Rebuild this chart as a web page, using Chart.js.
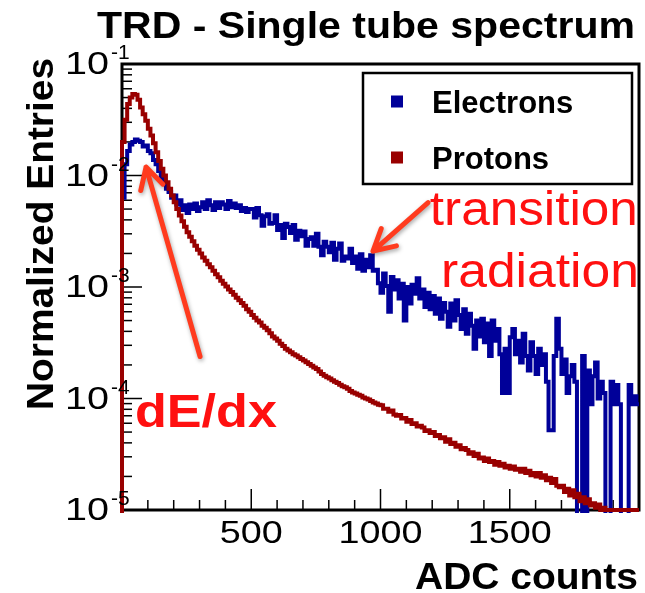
<!DOCTYPE html>
<html>
<head>
<meta charset="utf-8">
<script src="https://cdn.jsdelivr.net/npm/chart.js@4.4.0/dist/chart.umd.min.js"></script>
<style>
body { margin: 0; background: #ffffff; }
</style>
</head>
<body>
<canvas id="grafica_trd" width="645" height="593"></canvas>
<script>
// histogramas de 200 bins de 10 cuentas ADC (0 - 2000)
var anchoBin = 10;

var electrones = [
    6.3e-3, 1.26e-2, 1.66e-2, 1.9e-2, 2.0e-2, 2.1e-2, 2.05e-2, 2.0e-2, 1.82e-2, 1.86e-2,
    1.66e-2, 1.58e-2, 1.38e-2, 1.26e-2, 1.1e-2, 9.5e-3, 8.7e-3, 7.6e-3, 7.1e-3, 6.3e-3,
    6.6e-3, 5.5e-3, 6.0e-3, 4.9e-3, 5.4e-3, 4.6e-3, 5.5e-3, 5.0e-3, 5.6e-3, 4.8e-3,
    5.2e-3, 5.75e-3, 5.0e-3, 6.0e-3, 5.4e-3, 4.9e-3, 5.75e-3, 5.1e-3, 5.75e-3, 5.5e-3,
    5.0e-3, 5.9e-3, 5.2e-3, 5.6e-3, 5.1e-3, 5.4e-3, 4.8e-3, 5.1e-3, 4.7e-3, 5.0e-3,
    5.0e-3, 4.2e-3, 5.1e-3, 4.4e-3, 3.55e-3, 4.3e-3, 4.5e-3, 3.7e-3, 3.75e-3, 4.4e-3,
    3.25e-3, 3.6e-3, 2.75e-3, 3.7e-3, 3.45e-3, 3.05e-3, 3.6e-3, 2.65e-3, 3.2e-3, 2.85e-3,
    3.15e-3, 2.35e-3, 2.7e-3, 2.8e-3, 2.35e-3, 3.0e-3, 2.3e-3, 1.93e-3, 2.55e-3, 2.3e-3,
    2.05e-3, 2.5e-3, 1.76e-3, 2.2e-3, 2.45e-3, 1.72e-3, 1.88e-3, 1.8e-3, 2.2e-3, 1.64e-3,
    1.88e-3, 1.46e-3, 1.97e-3, 1.4e-3, 1.76e-3, 1.5e-3, 1.93e-3, 1.4e-3, 1.43e-3, 1.08e-3,
    8.9e-4, 1.32e-3, 1.02e-3, 6.0e-4, 1.23e-3, 9.5e-4, 1.15e-3, 7.9e-4, 1.07e-3, 5.0e-4,
    1.0e-3, 7.1e-4, 1.05e-3, 8.7e-4, 1.2e-3, 7.9e-4, 9.5e-4, 6.6e-4, 8.9e-4, 6.3e-4,
    8.3e-4, 5.75e-4, 7.9e-4, 5.2e-4, 7.2e-4, 6.0e-4, 4.4e-4, 7.1e-4, 5.0e-4, 7.6e-4,
    5.6e-4, 4.2e-4, 6.3e-4, 3.8e-4, 5.75e-4, 4.5e-4, 2.8e-4, 5.0e-4, 3.6e-4, 5.2e-4,
    3.2e-4, 4.7e-4, 2.4e-4, 5.0e-4, 3.3e-4, 4.2e-4, 2.5e-4, 1.12e-4, 2.8e-4, 1.12e-4,
    3.55e-4, 4.2e-4, 2.5e-4, 3.3e-4, 2.1e-4, 3.8e-4, 2.4e-4, 1.78e-4, 3.2e-4, 2.4e-4,
    1.66e-4, 2.8e-4, 2.0e-4, 2.5e-4, 1.41e-4, 5.2e-5, 5.2e-5, 2.4e-4, 5.2e-4, 2.8e-4,
    1.66e-4, 2.24e-4, 1.12e-4, 1.58e-4, 2.0e-4, 1.41e-4, 0, 0, 2.4e-4, 0,
    1.78e-4, 8.9e-5, 1.58e-4, 2.1e-4, 1.0e-4, 1.41e-4, 1.12e-4, 0, 0, 1.41e-4,
    8.9e-5, 1.32e-4, 8.9e-5, 0, 0, 0, 1.32e-4, 8.9e-5, 1.05e-4, 8.9e-5
];

var protones = [
    2.0e-2, 3.16e-2, 4.37e-2, 5.0e-2, 5.37e-2, 5.3e-2, 4.79e-2, 4.07e-2, 3.55e-2, 3.09e-2,
    2.63e-2, 2.29e-2, 1.95e-2, 1.62e-2, 1.35e-2, 1.15e-2, 1.0e-2, 8.7e-3, 7.6e-3, 6.6e-3,
    5.75e-3, 5.0e-3, 4.37e-3, 3.89e-3, 3.47e-3, 3.09e-3, 2.82e-3, 2.57e-3, 2.34e-3, 2.16e-3,
    2.0e-3, 1.84e-3, 1.72e-3, 1.6e-3, 1.5e-3, 1.4e-3, 1.3e-3, 1.22e-3, 1.14e-3, 1.07e-3,
    1.01e-3, 9.5e-4, 9.0e-4, 8.5e-4, 8.0e-4, 7.6e-4, 7.2e-4, 6.8e-4, 6.3e-4, 6.0e-4,
    5.6e-4, 5.3e-4, 5.0e-4, 4.8e-4, 4.5e-4, 4.3e-4, 4.1e-4, 3.85e-4, 3.6e-4, 3.45e-4,
    3.3e-4, 3.1e-4, 2.95e-4, 2.8e-4, 2.7e-4, 2.6e-4, 2.5e-4, 2.43e-4, 2.34e-4, 2.26e-4,
    2.19e-4, 2.11e-4, 2.04e-4, 1.97e-4, 1.9e-4, 1.84e-4, 1.75e-4, 1.66e-4, 1.6e-4, 1.55e-4,
    1.51e-4, 1.46e-4, 1.41e-4, 1.38e-4, 1.33e-4, 1.29e-4, 1.26e-4, 1.22e-4, 1.17e-4, 1.13e-4,
    1.11e-4, 1.08e-4, 1.06e-4, 1.02e-4, 1.0e-4, 9.8e-5, 9.5e-5, 9.2e-5, 9.0e-5, 8.8e-5,
    8.7e-5, 8.1e-5, 8.1e-5, 7.6e-5, 7.8e-5, 7.2e-5, 7.0e-5, 7.1e-5, 6.6e-5, 6.7e-5,
    6.2e-5, 6.4e-5, 5.9e-5, 6.0e-5, 5.6e-5, 5.7e-5, 5.5e-5, 5.1e-5, 5.2e-5, 4.9e-5,
    5.0e-5, 4.6e-5, 4.7e-5, 4.4e-5, 4.5e-5, 4.1e-5, 4.3e-5, 3.9e-5, 4.0e-5, 3.7e-5,
    3.8e-5, 3.5e-5, 3.6e-5, 3.45e-5, 3.2e-5, 3.3e-5, 3.05e-5, 3.2e-5, 2.9e-5, 2.95e-5,
    2.75e-5, 2.9e-5, 2.7e-5, 2.75e-5, 2.55e-5, 2.7e-5, 2.5e-5, 2.6e-5, 2.4e-5, 2.5e-5,
    2.35e-5, 2.45e-5, 2.3e-5, 2.35e-5, 2.2e-5, 2.35e-5, 2.15e-5, 2.25e-5, 2.05e-5, 2.15e-5,
    2.0e-5, 2.15e-5, 1.95e-5, 2.05e-5, 1.85e-5, 1.95e-5, 1.75e-5, 1.9e-5, 1.65e-5, 1.6e-5,
    1.65e-5, 1.45e-5, 1.55e-5, 1.35e-5, 1.5e-5, 1.3e-5, 1.4e-5, 1.2e-5, 1.3e-5, 1.15e-5,
    1.25e-5, 1.1e-5, 1.15e-5, 1.05e-5, 1.12e-5, 1.0e-5, 1.05e-5, 1.0e-5, 1.0e-5, 1.0e-5,
    1.0e-5, 1.0e-5, 1.0e-5, 1.0e-5, 1.0e-5, 1.0e-5, 1.0e-5, 1.0e-5, 1.0e-5, 1.0e-5
];

var etiquetasSerie = ["Electrons", "Protons"];
var coloresSerie = ["#000099", "#990000"];
var ticksX = [500, 1000, 1500];
var exponentesY = [-1, -2, -3, -4, -5];

var titulo = "TRD - Single tube spectrum";
var tituloX = "ADC counts";
var tituloY = "Normalized Entries";

var fuente = "'Liberation Sans', Arial, Helvetica, sans-serif";
var rojoTexto = "#ff1010";
var rojoFlecha = "#ff3b1e";
var suelo = 1e-7;   // bins vacios: por debajo del eje
var grafica;

function puntosHistograma(valores) {
    var puntos = [{ x: 0, y: suelo }];
    for (var i = 0; i < valores.length; i++) {
        puntos.push({ x: i * anchoBin, y: valores[i] > 0 ? valores[i] : suelo });
    }
    var ultimo = valores[valores.length - 1];
    puntos.push({ x: valores.length * anchoBin, y: ultimo > 0 ? ultimo : suelo });
    return puntos;
}

function escribirEscalado(ctx, texto, x, y, font, color, alinear, sx) {
    ctx.save();
    ctx.font = font;
    ctx.fillStyle = color;
    ctx.textBaseline = "alphabetic";
    ctx.textAlign = alinear;
    ctx.translate(x, y);
    ctx.scale(sx, 1);
    ctx.fillText(texto, 0, 0);
    ctx.restore();
}

function escribir(ctx, texto, x, y, font, color, alinear, ancho) {
    ctx.save();
    ctx.font = font;
    var sx = ancho ? ancho / ctx.measureText(texto).width : 1;
    ctx.restore();
    escribirEscalado(ctx, texto, x, y, font, color, alinear, sx);
}

function linea(ctx, x0, y0, x1, y1) {
    ctx.beginPath();
    ctx.moveTo(x0, y0);
    ctx.lineTo(x1, y1);
    ctx.stroke();
}

function flecha(ctx, x0, y0, x1, y1) {
    var ang = Math.atan2(y1 - y0, x1 - x0);
    var ala = 24;
    ctx.save();
    ctx.strokeStyle = rojoFlecha;
    ctx.lineWidth = 5;
    ctx.lineCap = "round";
    ctx.lineJoin = "round";
    ctx.shadowColor = "rgba(0,0,0,0.35)";
    ctx.shadowBlur = 4;
    ctx.shadowOffsetX = 1;
    ctx.shadowOffsetY = 2;
    ctx.beginPath();
    ctx.moveTo(x0, y0);
    ctx.lineTo(x1, y1);
    ctx.moveTo(x1 - ala * Math.cos(ang - 0.5), y1 - ala * Math.sin(ang - 0.5));
    ctx.lineTo(x1, y1);
    ctx.lineTo(x1 - ala * Math.cos(ang + 0.5), y1 - ala * Math.sin(ang + 0.5));
    ctx.stroke();
    ctx.restore();
}

var pluginMarco = {
    id: "marco",
    beforeDatasetsDraw: function (chart) {
        var ctx = chart.ctx;
        var area = chart.chartArea;
        var ejeX = chart.scales.x;
        var ejeY = chart.scales.y;
        ctx.save();
        ctx.strokeStyle = "#000000";
        ctx.lineWidth = 1.5;
        // ticks hacia dentro
        for (var v = 100; v < 2000; v += 100) {
            var px = ejeX.getPixelForValue(v);
            var largo = ticksX.indexOf(v) >= 0 ? 21 : 10;
            linea(ctx, px, area.bottom, px, area.bottom - largo);
        }
        for (var e = -5; e <= -1; e++) {
            for (var m = 1; m <= 9; m++) {
                var valor = m * Math.pow(10, e);
                if (valor > 0.1001) continue;
                var py = ejeY.getPixelForValue(valor);
                linea(ctx, area.left, py, area.left + (m === 1 ? 20 : 10), py);
            }
        }
        ctx.lineWidth = 3;
        ctx.strokeRect(area.left, area.top, area.right - area.left, area.bottom - area.top);
        ctx.restore();
    },
    afterDatasetsDraw: function (chart) {
        var ctx = chart.ctx;
        var ejeX = chart.scales.x;
        var ejeY = chart.scales.y;

        // etiquetas de los ejes
        ticksX.forEach(function (t) {
            escribirEscalado(ctx, String(t), ejeX.getPixelForValue(t), 543, "32px " + fuente, "#000", "center", 1.18);
        });
        exponentesY.forEach(function (e) {
            var py = ejeY.getPixelForValue(Math.pow(10, e));
            escribir(ctx, "10", 109, py + 10, "32px " + fuente, "#000", "right", 44);
            escribir(ctx, "-" + Math.abs(e), 111, py - 5, "21px " + fuente, "#000", "left");
        });

        // titulos
        escribir(ctx, titulo, 635, 38, "bold 37px " + fuente, "#000", "right", 538);
        escribir(ctx, tituloX, 638, 589, "bold 36px " + fuente, "#000", "right", 223);
        ctx.save();
        ctx.translate(53, 410);
        ctx.rotate(-Math.PI / 2);
        escribir(ctx, tituloY, 0, 0, "bold 36px " + fuente, "#000", "left", 352);
        ctx.restore();

        // leyenda
        ctx.save();
        ctx.fillStyle = "#ffffff";
        ctx.fillRect(363, 73, 269, 111);
        ctx.strokeStyle = "#000";
        ctx.lineWidth = 2.5;
        ctx.strokeRect(363, 73, 269, 111);
        for (var i = 0; i < etiquetasSerie.length; i++) {
            var cy = 101.5 + i * 56;
            ctx.fillStyle = coloresSerie[i];
            ctx.fillRect(391, cy - 6, 12, 12);
            escribir(ctx, etiquetasSerie[i], 432, cy + 11, "bold 31px " + fuente, "#000", "left");
        }
        ctx.restore();

        // anotaciones
        flecha(ctx, ejeX.getPixelForValue(302), ejeY.getPixelForValue(2.38e-4),
            ejeX.getPixelForValue(93), ejeY.getPixelForValue(1.19e-2));
        flecha(ctx, ejeX.getPixelForValue(1184), ejeY.getPixelForValue(5.7e-3),
            ejeX.getPixelForValue(971), ejeY.getPixelForValue(2.1e-3));
        escribir(ctx, "dE/dx", ejeX.getPixelForValue(50), ejeY.getPixelForValue(5.5e-5),
            "bold 46px " + fuente, rojoTexto, "left", 142);
        escribir(ctx, "transition", ejeX.getPixelForValue(1191), ejeY.getPixelForValue(3.63e-3),
            "48px " + fuente, rojoTexto, "left", 208);
        escribir(ctx, "radiation", ejeX.getPixelForValue(1234), ejeY.getPixelForValue(9.9e-4),
            "48px " + fuente, rojoTexto, "left", 198);
    }
};

function crearGrafica() {
    var datos = {
        type: "line",
        data: {
            datasets: [{
                label: etiquetasSerie[0],
                data: puntosHistograma(electrones),
                borderColor: coloresSerie[0],
                order: 1
            }, {
                label: etiquetasSerie[1],
                data: puntosHistograma(protones),
                borderColor: coloresSerie[1],
                order: 0
            }]
        },
        options: {
            responsive: false,
            animation: false,
            devicePixelRatio: 1,
            events: [],
            layout: { padding: { left: 122, right: 6, top: 64, bottom: 83 } },
            elements: {
                line: { borderWidth: 4, stepped: "before", tension: 0, fill: false },
                point: { radius: 0 }
            },
            datasets: {
                line: { clip: { left: 3, top: 0, right: 0, bottom: 3 } }
            },
            scales: {
                x: { type: "linear", min: 0, max: 2000, display: false },
                y: { type: "logarithmic", min: 1e-5, max: 1e-1, display: false }
            },
            plugins: {
                legend: { display: false },
                tooltip: { enabled: false },
                title: { display: false }
            }
        },
        plugins: [pluginMarco]
    };
    grafica = new Chart(document.getElementById("grafica_trd"), datos);
}

crearGrafica();
</script>
</body>
</html>
